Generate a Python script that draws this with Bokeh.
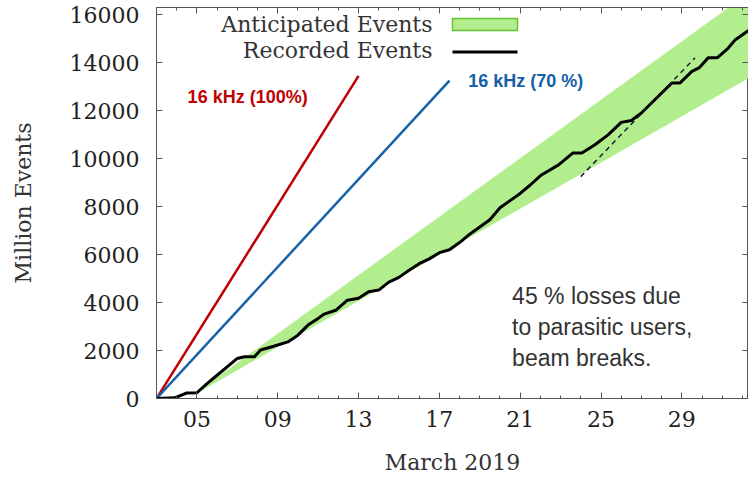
from bokeh.plotting import figure
from bokeh.models import FixedTicker, LinearAxis, Range1d, Label, BoxAnnotation
from bokeh.embed import file_html
from bokeh.resources import INLINE

# ---------------- data ----------------
rec_day = [3.0, 3.9, 4.5, 5.0, 5.5, 6.0, 6.6, 7.0, 7.35, 7.85, 8.15, 8.8, 9.5, 10.0,
           10.5, 11.0, 11.3, 11.9, 12.45, 13.0, 13.5, 14.0, 14.5, 15.0, 15.5, 16.0,
           16.5, 17.0, 17.5, 18.0, 18.5, 19.0, 19.5, 20.0, 20.5, 21.0, 21.5, 22.05,
           22.9, 23.6, 24.05, 24.7, 25.35, 26.0, 26.5, 27.0, 27.5, 28.5, 28.9, 29.5,
           29.85, 30.3, 30.75, 31.3, 31.65, 32.3]
rec_val = [0, 30, 230, 240, 620, 970, 1390, 1670, 1740, 1740, 2020, 2180, 2360, 2640,
           3060, 3340, 3520, 3690, 4100, 4180, 4450, 4520, 4850, 5050, 5350, 5620,
           5820, 6080, 6200, 6500, 6850, 7150, 7450, 7950, 8250, 8550, 8900, 9320,
           9740, 10230, 10230, 10580, 10990, 11510, 11590, 11900, 12320, 13150, 13150, 13640,
           13780, 14200, 14200, 14610, 14960, 15340]

band_day = [4.55, 32.3]
band_low = [0, 13350]
band_high = [0, 16900]

full_day = [3.0, 13.0]          # 16 kHz (100%)
full_val = [0, 13450]
seventy_day = [3.0, 17.5]       # 16 kHz (70 %)
seventy_val = [0, 13250]

fit_day = [24.0, 29.65]
fit_val = [9250, 14200]

x_ticks = [5, 9, 13, 17, 21, 25, 29]
x_tick_labels = ["05", "09", "13", "17", "21", "25", "29"]
x_minor = list(range(3, 33))
y_ticks = [0, 2000, 4000, 6000, 8000, 10000, 12000, 14000, 16000]

SERIF = "DejaVu Serif"
SANS = "Liberation Sans"
FRAME = "#555555"
GREEN = "#b2ee8e"

p = figure(width=748, height=477, x_range=Range1d(3, 32.3), y_range=Range1d(0, 16300),
           output_backend="svg", toolbar_location=None,
           min_border_left=156, min_border_right=0, min_border_top=7, min_border_bottom=79,
           background_fill_color="white", border_fill_color="white")
p.xgrid.visible = False
p.ygrid.visible = False
p.outline_line_color = FRAME
p.outline_line_width = 1

# ---------------- glyphs ----------------
p.varea(x=band_day, y1=band_low, y2=band_high, fill_color=GREEN, fill_alpha=1.0)
p.line(full_day, full_val, line_color="#c00000", line_width=2.5)
p.line(seventy_day, seventy_val, line_color="#1a62a8", line_width=2.5)
p.line(rec_day, rec_val, line_color="black", line_width=3)
p.line(fit_day, fit_val, line_color="#1c1c30", line_width=1.5, line_dash="5 4")

# ---------------- axes ----------------
xt = FixedTicker(ticks=x_ticks, minor_ticks=x_minor)
yt = FixedTicker(ticks=y_ticks, minor_ticks=[])

def style(ax, show_labels):
    ax.axis_line_color = FRAME
    ax.major_tick_line_color = FRAME
    ax.minor_tick_line_color = FRAME
    ax.major_tick_in = 6
    ax.major_tick_out = 0
    ax.minor_tick_in = 3
    ax.minor_tick_out = 0
    if show_labels:
        ax.major_label_text_font = SERIF
        ax.major_label_text_font_size = "22px"
        ax.major_label_text_color = "#222222"
        ax.axis_label_text_font = SERIF
        ax.axis_label_text_font_size = "22px"
        ax.axis_label_text_font_style = "normal"
        ax.axis_label_text_color = "#333333"
    else:
        ax.major_label_text_font_size = "0px"
        ax.major_label_standoff = 0

xa = p.xaxis[0]
xa.ticker = xt
xa.major_label_overrides = {t: l for t, l in zip(x_ticks, x_tick_labels)}
style(xa, True)
xa.major_label_standoff = 12
xa.axis_label = "March 2019"
xa.axis_label_standoff = 20

ya = p.yaxis[0]
ya.ticker = yt
style(ya, True)
ya.major_label_standoff = 17
ya.axis_label = "Million Events"
ya.axis_label_standoff = 31

top = LinearAxis(ticker=xt)
top.major_label_overrides = {t: "" for t in x_ticks}
style(top, False)
p.add_layout(top, "above")

right = LinearAxis(ticker=yt)
right.major_label_overrides = {t: "" for t in y_ticks}
style(right, False)
p.add_layout(right, "right")

# ---------------- legend (gnuplot style, text left of sample) ----------------
p.add_layout(Label(x=276, y=374, x_units="screen", y_units="screen", text="Anticipated Events",
                   text_align="right", text_baseline="middle", text_font=SERIF,
                   text_font_size="22px", text_color="#333333"))
p.add_layout(Label(x=276, y=348, x_units="screen", y_units="screen", text="Recorded Events",
                   text_align="right", text_baseline="middle", text_font=SERIF,
                   text_font_size="22px", text_color="#333333"))
p.add_layout(BoxAnnotation(left=296, right=361, bottom=368, top=380,
                           left_units="screen", right_units="screen",
                           bottom_units="screen", top_units="screen",
                           fill_color=GREEN, fill_alpha=1.0,
                           line_color="#62c232", line_width=1.5, line_alpha=1.0))
p.add_layout(BoxAnnotation(left=296, right=361, bottom=345, top=348,
                           left_units="screen", right_units="screen",
                           bottom_units="screen", top_units="screen",
                           fill_color="black", fill_alpha=1.0, line_color=None))

# ---------------- annotations ----------------
p.add_layout(Label(x=4.54, y=12580, text="16 kHz (100%)", text_align="left",
                   text_baseline="middle", text_font=SANS, text_font_style="bold",
                   text_font_size="18px", text_color="#c00000"))
p.add_layout(Label(x=18.43, y=13230, text="16 kHz (70 %)", text_align="left",
                   text_baseline="middle", text_font=SANS, text_font_style="bold",
                   text_font_size="18px", text_color="#1560a8"))
p.add_layout(Label(x=20.6, y=2970, text="45 % losses due\nto parasitic users,\nbeam breaks.",
                   text_align="left", text_baseline="middle", text_font=SANS,
                   text_font_size="23px", text_color="#333333", text_line_height=1.2))

open("out.html", "w").write(file_html(p, INLINE))
